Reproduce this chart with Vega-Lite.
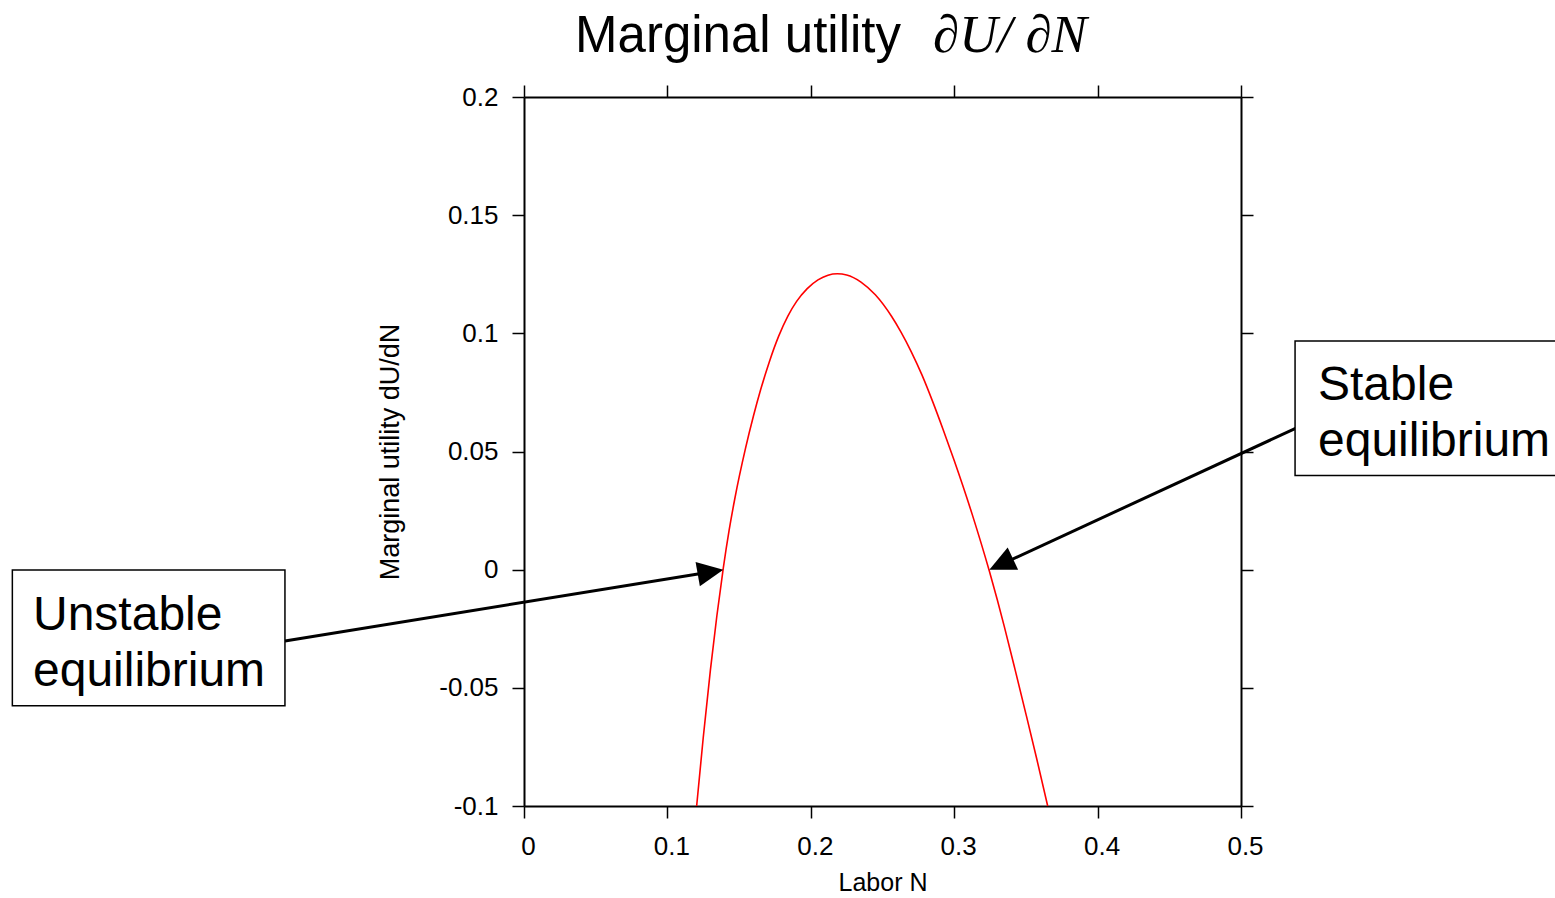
{
  "$schema": "https://vega.github.io/schema/vega-lite/v6.json",
  "width": 717,
  "height": 709,
  "autosize": {"type": "none"},
  "padding": {"left": 524, "top": 97, "right": 314, "bottom": 92},
  "background": "white",
  "config": {
    "view": {"stroke": null},
    "axis": {
      "domainColor": "black",
      "domainWidth": 2,
      "tickColor": "black",
      "tickWidth": 1.5,
      "tickSize": 12,
      "grid": false,
      "labelFont": "Liberation Sans",
      "labelFontSize": 26,
      "labelColor": "black",
      "labelPadding": 14,
      "labelFlush": false,
      "labelOverlap": false,
      "titleFont": "Liberation Sans",
      "titleFontSize": 26,
      "titleFontWeight": "normal",
      "titleColor": "black"
    }
  },
  "datasets": {
    "curve": [
      {"N": 0.1204, "dU": -0.1},
      {"N": 0.125, "dU": -0.071},
      {"N": 0.13, "dU": -0.0424},
      {"N": 0.1345, "dU": -0.0195},
      {"N": 0.139, "dU": 0.0008},
      {"N": 0.143, "dU": 0.0165},
      {"N": 0.147, "dU": 0.03},
      {"N": 0.1545, "dU": 0.0514},
      {"N": 0.16, "dU": 0.065},
      {"N": 0.165, "dU": 0.0761},
      {"N": 0.171, "dU": 0.0878},
      {"N": 0.1776, "dU": 0.0988},
      {"N": 0.184, "dU": 0.1073},
      {"N": 0.19, "dU": 0.1134},
      {"N": 0.1975, "dU": 0.1189},
      {"N": 0.205, "dU": 0.1226},
      {"N": 0.212, "dU": 0.1246},
      {"N": 0.2185, "dU": 0.1252},
      {"N": 0.225, "dU": 0.1247},
      {"N": 0.235, "dU": 0.1217},
      {"N": 0.245, "dU": 0.1163},
      {"N": 0.2564, "dU": 0.1071},
      {"N": 0.263, "dU": 0.1004},
      {"N": 0.27, "dU": 0.0923},
      {"N": 0.2775, "dU": 0.0824},
      {"N": 0.285, "dU": 0.0711},
      {"N": 0.2925, "dU": 0.0589},
      {"N": 0.3, "dU": 0.0462},
      {"N": 0.3125, "dU": 0.0235},
      {"N": 0.3245, "dU": -0.0006},
      {"N": 0.33, "dU": -0.0126},
      {"N": 0.335, "dU": -0.0242},
      {"N": 0.3425, "dU": -0.0424},
      {"N": 0.35, "dU": -0.061},
      {"N": 0.3575, "dU": -0.0799},
      {"N": 0.3652, "dU": -0.1}
    ],
    "arrows": [
      {"arrow": "unstable", "N": -0.1667, "dU": -0.0302},
      {"arrow": "unstable", "N": 0.1299, "dU": -0.001},
      {"arrow": "stable", "N": 0.5384, "dU": 0.0599},
      {"arrow": "stable", "N": 0.3327, "dU": 0.0022}
    ],
    "tipUnstable": [{"N": 0.139, "dU": 0.0}],
    "tipStable": [{"N": 0.3245, "dU": 0.0}],
    "boxes": [
      {"N": -0.3568, "N2": -0.1667, "dU": -0.0001, "dU2": -0.0576},
      {"N": 0.5377, "N2": 0.73, "dU": 0.0968, "dU2": 0.0398}
    ],
    "boxText": [
      {"N": -0.3424, "dU": -0.0255, "label": ["Unstable", "equilibrium"]},
      {"N": 0.5537, "dU": 0.0718, "label": ["Stable", "equilibrium"]}
    ],
    "titleSans": [{"N": 0.0356, "dU": 0.219, "label": "Marginal utility"}],
    "titleMath": [{"N": 0.2852, "dU": 0.219, "label": "∂U/ ∂N"}]
  },
  "resolve": {"axis": {"x": "independent", "y": "independent"}},
  "layer": [
    {
      "data": {"name": "curve"},
      "mark": {"type": "line", "color": "#ff0000", "strokeWidth": 1.6, "interpolate": "monotone"},
      "encoding": {
        "x": {
          "field": "N", "type": "quantitative",
          "scale": {"domain": [0, 0.5], "nice": false, "zero": false},
          "axis": {"orient": "bottom", "values": [0, 0.1, 0.2, 0.3, 0.4, 0.5], "labelExpr": "'' + datum.value", "labelOffset": 4, "labelPadding": 15, "title": "Labor N", "titleFontSize": 25, "titlePadding": 11}
        },
        "y": {
          "field": "dU", "type": "quantitative",
          "scale": {"domain": [-0.1, 0.2], "nice": false, "zero": false},
          "axis": {"orient": "left", "values": [-0.1, -0.05, 0, 0.05, 0.1, 0.15, 0.2], "labelExpr": "'' + datum.value", "title": "Marginal utility dU/dN", "titleFontSize": 27, "titlePadding": 34}
        }
      }
    },
    {
      "data": {"name": "curve"},
      "mark": {"type": "point", "opacity": 0},
      "encoding": {
        "x": {
          "field": "N", "type": "quantitative",
          "scale": {"domain": [0, 0.5], "nice": false, "zero": false},
          "axis": {"orient": "top", "values": [0, 0.1, 0.2, 0.3, 0.4, 0.5], "labels": false, "title": null}
        },
        "y": {
          "field": "dU", "type": "quantitative",
          "scale": {"domain": [-0.1, 0.2], "nice": false, "zero": false},
          "axis": {"orient": "right", "values": [-0.1, -0.05, 0, 0.05, 0.1, 0.15, 0.2], "labels": false, "title": null}
        }
      }
    },
    {
      "mark": {"type": "rule", "color": "#222222", "strokeWidth": 1, "strokeDash": [2, 3]},
      "encoding": {
        "y": {"datum": 0, "type": "quantitative", "scale": {"domain": [-0.1, 0.2], "nice": false, "zero": false}, "axis": null}
      }
    },
    {
      "data": {"name": "arrows"},
      "mark": {"type": "line", "color": "black", "strokeWidth": 3},
      "encoding": {
        "x": {"field": "N", "type": "quantitative", "scale": {"domain": [0, 0.5], "nice": false, "zero": false}, "axis": null},
        "y": {"field": "dU", "type": "quantitative", "scale": {"domain": [-0.1, 0.2], "nice": false, "zero": false}, "axis": null},
        "detail": {"field": "arrow"}
      }
    },
    {
      "data": {"name": "tipUnstable"},
      "mark": {"type": "point", "shape": "M0,0L-2,-0.95L-2,0.95Z", "filled": true, "color": "black", "opacity": 1, "size": 676, "angle": -10},
      "encoding": {
        "x": {"field": "N", "type": "quantitative", "scale": {"domain": [0, 0.5], "nice": false, "zero": false}, "axis": null},
        "y": {"field": "dU", "type": "quantitative", "scale": {"domain": [-0.1, 0.2], "nice": false, "zero": false}, "axis": null}
      }
    },
    {
      "data": {"name": "tipStable"},
      "mark": {"type": "point", "shape": "M0,0L-2,-0.95L-2,0.95Z", "filled": true, "color": "black", "opacity": 1, "size": 676, "angle": 155},
      "encoding": {
        "x": {"field": "N", "type": "quantitative", "scale": {"domain": [0, 0.5], "nice": false, "zero": false}, "axis": null},
        "y": {"field": "dU", "type": "quantitative", "scale": {"domain": [-0.1, 0.2], "nice": false, "zero": false}, "axis": null}
      }
    },
    {
      "data": {"name": "boxes"},
      "mark": {"type": "rect", "fill": "white", "stroke": "black", "strokeWidth": 1.5},
      "encoding": {
        "x": {"field": "N", "type": "quantitative", "scale": {"domain": [0, 0.5], "nice": false, "zero": false}, "axis": null},
        "x2": {"field": "N2"},
        "y": {"field": "dU", "type": "quantitative", "scale": {"domain": [-0.1, 0.2], "nice": false, "zero": false}, "axis": null},
        "y2": {"field": "dU2"}
      }
    },
    {
      "data": {"name": "boxText"},
      "mark": {"type": "text", "font": "Liberation Sans", "fontSize": 48, "lineHeight": 56, "align": "left", "baseline": "alphabetic", "color": "black"},
      "encoding": {
        "x": {"field": "N", "type": "quantitative", "scale": {"domain": [0, 0.5], "nice": false, "zero": false}, "axis": null},
        "y": {"field": "dU", "type": "quantitative", "scale": {"domain": [-0.1, 0.2], "nice": false, "zero": false}, "axis": null},
        "text": {"field": "label"}
      }
    },
    {
      "data": {"name": "titleSans"},
      "mark": {"type": "text", "font": "Liberation Sans", "fontSize": 51, "align": "left", "baseline": "alphabetic", "color": "black"},
      "encoding": {
        "x": {"field": "N", "type": "quantitative", "scale": {"domain": [0, 0.5], "nice": false, "zero": false}, "axis": null},
        "y": {"field": "dU", "type": "quantitative", "scale": {"domain": [-0.1, 0.2], "nice": false, "zero": false}, "axis": null},
        "text": {"field": "label"}
      }
    },
    {
      "data": {"name": "titleMath"},
      "mark": {"type": "text", "font": "Liberation Serif", "fontStyle": "italic", "fontSize": 53, "align": "left", "baseline": "alphabetic", "color": "black"},
      "encoding": {
        "x": {"field": "N", "type": "quantitative", "scale": {"domain": [0, 0.5], "nice": false, "zero": false}, "axis": null},
        "y": {"field": "dU", "type": "quantitative", "scale": {"domain": [-0.1, 0.2], "nice": false, "zero": false}, "axis": null},
        "text": {"field": "label"}
      }
    }
  ]
}
